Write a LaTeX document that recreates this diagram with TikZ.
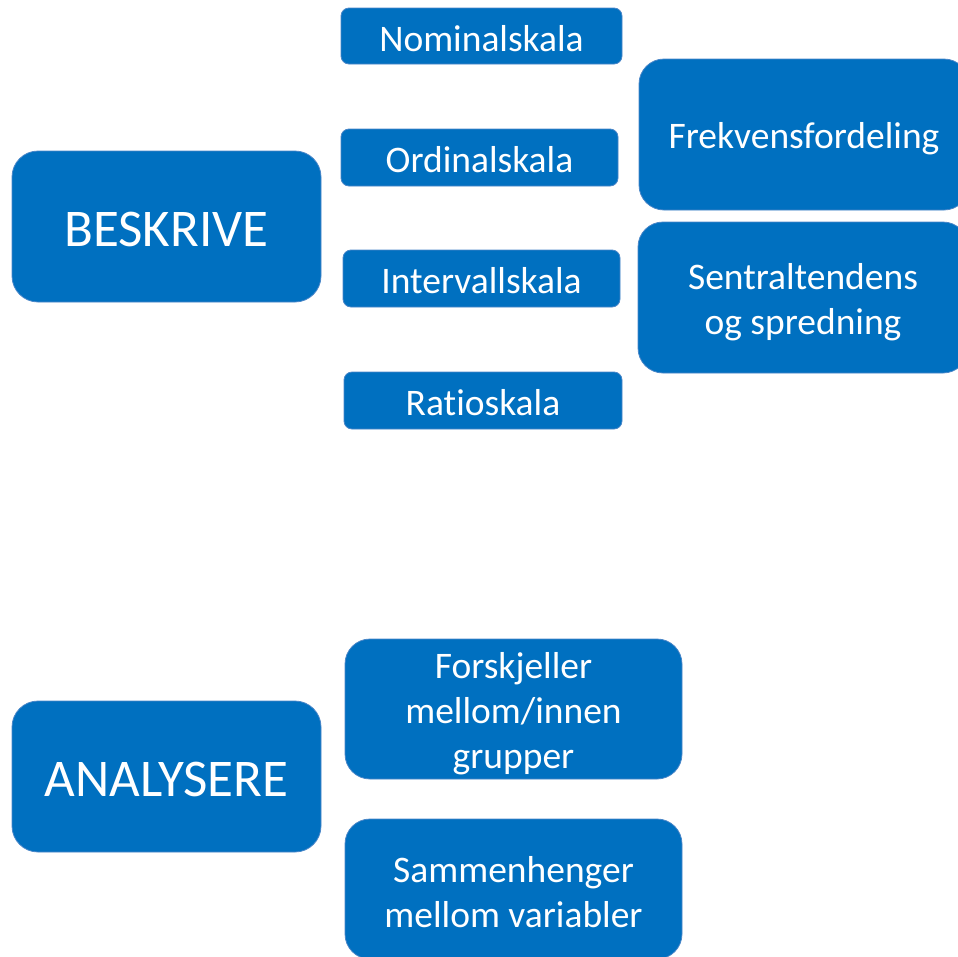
\documentclass[tikz,border=0pt]{standalone}
\usepackage{fontspec}
\setmainfont{Carlito}[Ligatures={NoCommon}]
\definecolor{boxblue}{HTML}{0070C0}
\definecolor{edgeblue}{HTML}{4A86C8}
\tikzset{
  box/.style={draw=edgeblue, line width=0.8pt, fill=boxblue, inner sep=0pt, outer sep=0pt},
  smallbox/.style={box, rounded corners=8pt},
  bigbox/.style={box, rounded corners=25pt},
  mainbox/.style={box, rounded corners=26pt},
  txt/.style={text=white, align=center, inner sep=0pt, font=\fontsize{37.5}{45}\selectfont},
  maintxt/.style={txt, font=\fontsize{53}{60}\selectfont},
}
\begin{document}
\begin{tikzpicture}[x=1pt,y=-1pt]
\useasboundingbox (0,0) rectangle (958,956);
\node[smallbox, minimum width=281pt, minimum height=56pt] (nom) at (481.5,36) {};
\node[smallbox, minimum width=277pt, minimum height=57pt] (ord) at (479.5,157.5) {};
\node[smallbox, minimum width=277pt, minimum height=57pt] (int) at (481.5,278.5) {};
\node[smallbox, minimum width=278pt, minimum height=57pt] (rat) at (483,400.5) {};
\node[mainbox, minimum width=309pt, minimum height=151pt] (besk) at (166.5,226.5) {};
\node[mainbox, minimum width=309pt, minimum height=151pt] (anal) at (166.5,776.5) {};
\node[bigbox, minimum width=330pt, minimum height=151pt] (frek) at (804,134.5) {};
\node[bigbox, minimum width=330pt, minimum height=151pt] (sent) at (803,297.5) {};
\node[bigbox, minimum width=337pt, minimum height=140pt] (forsk) at (513.5,709) {};
\node[bigbox, minimum width=337pt, minimum height=140pt] (samm) at (513.5,889) {};
\node[txt] (nomt) at ([yshift=-2.5pt]nom.center) {Nominalskala};
\node[txt] (ordt) at ([yshift=-2.5pt]ord.center) {Ordinalskala};
\node[txt] (intt) at ([yshift=-2.5pt]int.center) {Intervallskala};
\node[txt] (ratt) at ([yshift=-2.5pt]rat.center) {Ratioskala};
\node[maintxt] (beskt) at ([yshift=-3pt]besk.center) {BESKRIVE};
\node[maintxt] (analt) at ([yshift=-3pt]anal.center) {ANALYSERE};
\node[txt] (frekt) at ([yshift=-4.5pt]frek.center) {Frekvensfordeling};
\node[txt] (sentt) at ([yshift=-4.5pt]sent.center) {Sentraltendens\\og spredning};
\node[txt] (forskt) at ([yshift=-4.5pt]forsk.center) {Forskjeller\\mellom/innen\\grupper};
\node[txt] (sammt) at ([yshift=-3pt]samm.center) {Sammenhenger\\mellom variabler};
\end{tikzpicture}
\end{document}
